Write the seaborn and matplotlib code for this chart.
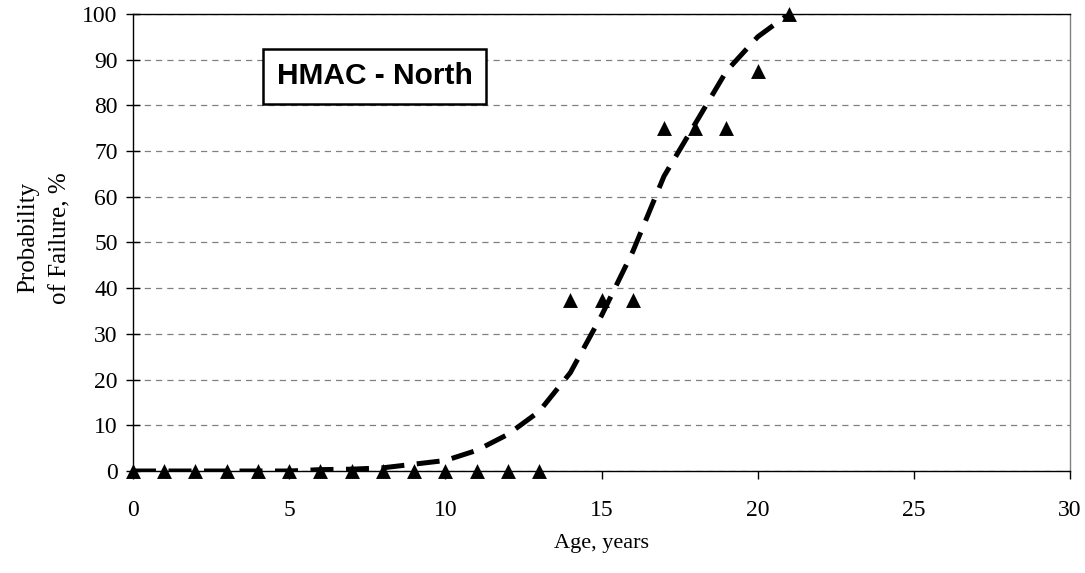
import numpy as np
import pandas as pd
import seaborn as sns
from matplotlib import pyplot as plt

# observed probability of failure (triangles)
obs_age = [0, 1, 2, 3, 4, 5, 6, 7, 8, 9, 10, 11, 12, 13, 14, 15, 16, 17, 18, 19, 20, 21]
obs_pof = [0, 0, 0, 0, 0, 0, 0, 0, 0, 0, 0, 0, 0, 0, 37.5, 37.5, 37.5, 75, 75, 75, 87.5, 100]

# fitted curve (dashed)
fit_age = [0, 1, 2, 3, 4, 5, 6, 7, 8, 9, 10, 11, 12, 13, 14, 15, 16, 17, 18, 19, 20, 21]
fit_pof = [0, 0, 0, 0, 0, 0, 0.3, 0.4, 0.7, 1.5, 2.3, 4.5, 8, 13, 21.5, 34, 48, 64.5, 76, 87.5, 95, 100]

x_ticks = [0, 5, 10, 15, 20, 25, 30]
y_ticks = [0, 10, 20, 30, 40, 50, 60, 70, 80, 90, 100]

sns.set_style('white')
plt.rcParams['font.family'] = ['Liberation Serif', 'DejaVu Serif']
plt.rcParams['text.color'] = 'black'
plt.rcParams['axes.labelcolor'] = 'black'
plt.rcParams['xtick.color'] = 'black'
plt.rcParams['ytick.color'] = 'black'

df_obs = pd.DataFrame({'age': obs_age, 'pof': obs_pof})
df_fit = pd.DataFrame({'age': fit_age, 'pof': fit_pof})

fig = plt.figure(figsize=(10.85, 5.73), dpi=100)
ax = fig.add_axes([0.1226, 0.178, 0.8636, 0.7976])

sns.lineplot(data=df_fit, x='age', y='pof', ax=ax, color='black', linewidth=3.6,
             dashes=False, zorder=3)
ax.lines[0].set_dashes((4.6, 2.5))
sns.scatterplot(data=df_obs, x='age', y='pof', ax=ax, marker='^', color='black',
                s=115, edgecolor='black', linewidth=0, zorder=4, clip_on=False)

ax.set_xlim(0, 30)
ax.set_ylim(0, 100)
ax.set_xticks(x_ticks)
ax.set_yticks(y_ticks)
ax.yaxis.grid(True, color='#808080', linestyle=(0, (5, 4)), linewidth=0.9)
ax.xaxis.grid(False)
ax.set_axisbelow(True)

for s in ['left', 'bottom', 'top']:
    ax.spines[s].set_color('black')
    ax.spines[s].set_linewidth(1.0)
ax.spines['right'].set_color('#808080')
ax.spines['right'].set_linewidth(1.0)

ax.tick_params(axis='y', direction='inout', length=10, width=1,
               labelsize=17, pad=6, left=True)
ax.tick_params(axis='x', direction='out', length=6, width=1,
               labelsize=17, pad=15, bottom=True)

ax.set_xlabel('Age, years', fontsize=16)
ax.set_ylabel('Probability\nof Failure, %', fontsize=18, linespacing=1.6)
ax.xaxis.set_label_coords(0.5, -0.137)
ax.yaxis.set_label_coords(-0.066, 0.51)

ax.text(7.73, 86.4, 'HMAC - North', fontsize=21.5, fontweight='bold',
        family=['Liberation Sans', 'DejaVu Sans'], ha='center', va='center',
        bbox=dict(boxstyle='square,pad=0.45', facecolor='white', edgecolor='black',
                  linewidth=1.8), zorder=5)

fig.savefig('out.png', dpi=100)
